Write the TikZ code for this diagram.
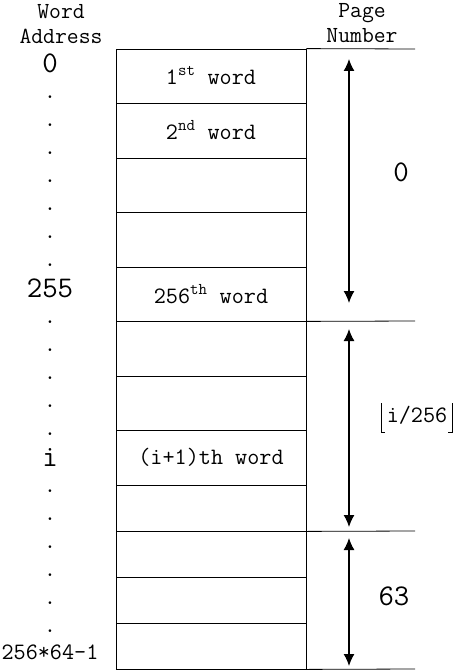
\documentclass[tikz,border=0pt]{standalone}
\usepackage{fontspec}
\usetikzlibrary{arrows.meta}
\begin{document}
\begin{tikzpicture}[x=1pt,y=-1pt,
  cell/.style={draw, line width=0.8pt, minimum width=190pt, inner sep=0pt, font=\ttfamily\fontsize{23.5}{25}\selectfont},
  lbl/.style={inner sep=0pt, font=\ttfamily\fontsize{23.5}{25}\selectfont},
  big/.style={inner sep=0pt, font=\ttfamily\fontsize{30}{32}\selectfont},
  hdr/.style={inner sep=0pt, align=center, font=\ttfamily\fontsize{23}{24.5}\selectfont},
  dotlbl/.style={inner sep=0pt, font=\ttfamily\fontsize{24}{26}\selectfont},
  rule/.style={line width=0.8pt},
  span/.style={line width=1.3pt, {Latex[length=12pt,width=11pt]}-{Latex[length=12pt,width=11pt]}}
]
\useasboundingbox (0,0) rectangle (453,671);
% header
\node[hdr] (wa) at (61,24) {Word\\Address};
\node[hdr] (pn) at (362,23) {Page\\Number};
% cells
\node[cell, minimum height=54pt] (c1) at (211,76) {1\textsuperscript{st} word};
\node[cell, minimum height=55pt] (c2) at (211,130.5) {2\textsuperscript{nd} word};
\node[cell, minimum height=54pt] (c3) at (211,185) {};
\node[cell, minimum height=55pt] (c4) at (211,239.5) {};
\node[cell, minimum height=54pt] (c5) at (211,294) {256\textsuperscript{th} word};
\node[cell, minimum height=55pt] (c6) at (211,348.5) {};
\node[cell, minimum height=54pt] (c7) at (211,403) {};
\node[cell, minimum height=55pt] (c8) at (211,457.5) {(i+1)th word};
\node[cell, minimum height=46pt] (c9) at (211,508) {};
\node[cell, minimum height=46pt] (c10) at (211,554) {};
\node[cell, minimum height=46pt] (c11) at (211,600) {};
\node[cell, minimum height=46pt] (c12) at (211,646) {};
% page separators
\coordinate (pr0) at (415,49);
\coordinate (pr1) at (415,321);
\coordinate (pr2) at (415,531);
\coordinate (pr3) at (415,669);
\draw[rule] (c1.north east) -- (pr0);
\draw[rule] (c5.south east) -- (pr1);
\draw[rule] (c9.south east) -- (pr2);
\draw[rule] (c12.south east) -- (pr3);
% arrows
\coordinate (a0t) at (349,59);
\coordinate (a0b) at (349,303);
\coordinate (a1t) at (349,329);
\coordinate (a1b) at (349,527);
\coordinate (a2t) at (349,538);
\coordinate (a2b) at (349,666);
\draw[span] (a0t) -- (a0b);
\draw[span] (a1t) -- (a1b);
\draw[span] (a2t) -- (a2b);
% page labels
\node[big] (p0) at (401,172) {0};
\node[lbl] (pi) at (417,415) {i/256};
\draw[rule] (pi.center) ++(-36,-12) -- ++(0,29) -- ++(4,0);
\draw[rule] (pi.center) ++(35,-12) -- ++(0,29) -- ++(-4,0);
\node[big] (p63) at (394,596) {63};
% addresses
\node[big] (w0) at (50,63) {0};
\node[big] (w255) at (50,288) {255};
\node[big] (wi) at (50,457) {i};
\node[lbl] (wlast) at (50,652) {256*64-1};
\foreach \y [count=\k] in {97,125,153,181,209,237,265,322,350,378,406,434,491,519,547,575,603,631}
  \node[dotlbl] (d\k) at (50,\y) {.};
\end{tikzpicture}
\end{document}
